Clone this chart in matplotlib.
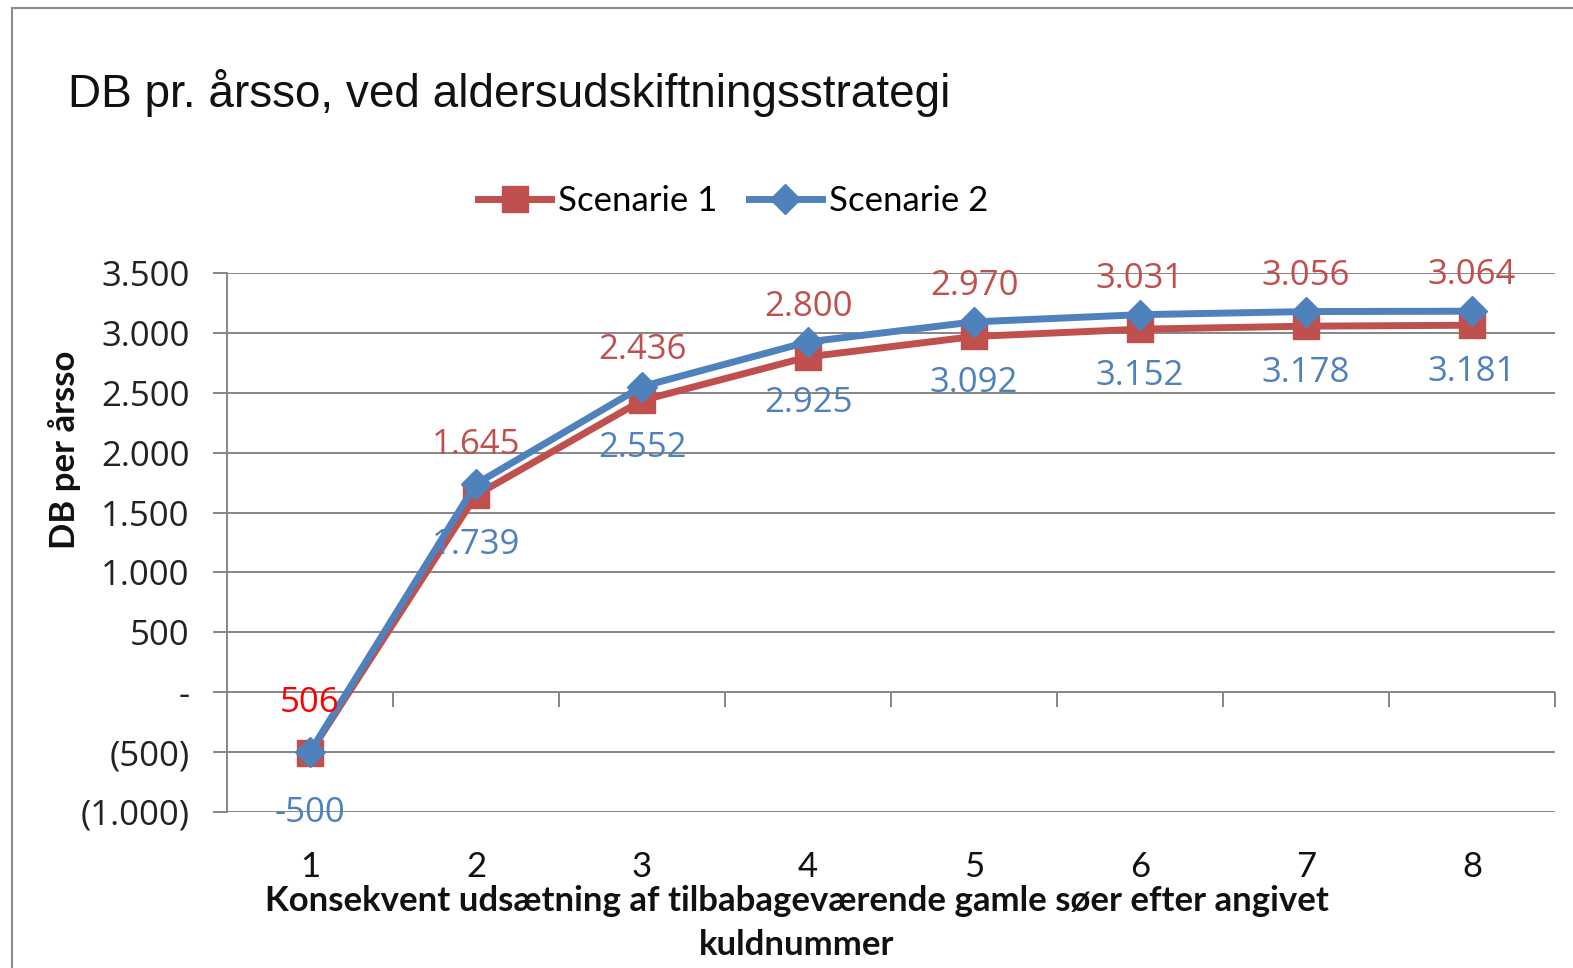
import matplotlib
matplotlib.use("Agg")
import matplotlib.pyplot as plt
from matplotlib.patches import Rectangle
from matplotlib.lines import Line2D

# ---- data ----
categories = [1, 2, 3, 4, 5, 6, 7, 8]
scenarie1 = [-506, 1645, 2436, 2800, 2970, 3031, 3056, 3064]
scenarie2 = [-500, 1739, 2552, 2925, 3092, 3152, 3178, 3181]
series_names = ["Scenarie 1", "Scenarie 2"]
y_ticks = [-1000, -500, 0, 500, 1000, 1500, 2000, 2500, 3000, 3500]
title = "DB pr. årsso, ved aldersudskiftningsstrategi"
y_label = "DB per årsso"
x_label = "Konsekvent udsætning af tilbabageværende gamle søer efter angivet\nkuldnummer"

RED = "#C0504D"
BLUE = "#4F81BD"
GRID = "#868686"


def dk(v):
    return f"{abs(v):,}".replace(",", ".")


def tick_fmt(v):
    if v == 0:
        return "-"
    if v < 0:
        return "(" + dk(v) + ")"
    return dk(v)


W, H = 1573, 968
fig = plt.figure(figsize=(W / 100, H / 100), dpi=100)
fig.patch.set_facecolor("white")

ax = fig.add_axes([227 / W, 1 - 812 / H, (1555 - 227) / W, (812 - 273) / H])
ax.set_xlim(0.5, 8.5)
ax.set_ylim(-1000, 3500)

# grid
ax.set_yticks(y_ticks)
ax.set_yticklabels([tick_fmt(v) for v in y_ticks], fontfamily="Open Sans",
                   fontsize=25, color="#222222")
ax.yaxis.grid(True, color=GRID, lw=1.4, zorder=0)
ax.tick_params(axis="y", direction="out", length=10, width=1.4, color=GRID, pad=17)
for s in ["top", "right", "bottom"]:
    ax.spines[s].set_visible(False)
ax.spines["left"].set_color(GRID)
ax.spines["left"].set_linewidth(1.4)

ax.set_xticks(categories)
ax.set_xticklabels([str(c) for c in categories], fontfamily="Lato", fontsize=25,
                   color="#111111")
ax.tick_params(axis="x", length=0, pad=28)

# category boundary ticks on zero line
sec = ax.secondary_xaxis(1000 / 4500)
sec.set_xticks([c + 0.5 for c in categories])
sec.set_xticklabels([])
sec.tick_params(direction="out", length=11, width=1.4, color=GRID)
sec.spines["bottom"].set_visible(False)
sec.spines["top"].set_visible(False)

# lines
ax.plot(categories, scenarie1, color=RED, lw=5, marker="s", ms=19,
        mfc=RED, mec=RED, zorder=3, label=series_names[0])
ax.plot(categories, scenarie2, color=BLUE, lw=5, marker="D", ms=15,
        mfc=BLUE, mec=BLUE, zorder=4, label=series_names[1])

# data labels
for x, v in zip(categories, scenarie1):
    col = "#FF0000" if v < 0 else RED
    ax.annotate(dk(v), (x, v), xytext=(0, 36), textcoords="offset points",
                ha="center", va="center", fontfamily="Open Sans", fontsize=25,
                color=col, zorder=6)
for x, v in zip(categories, scenarie2):
    txt = ("-" if v < 0 else "") + dk(v)
    ax.annotate(txt, (x, v), xytext=(0, -44), textcoords="offset points",
                ha="center", va="center", fontfamily="Open Sans", fontsize=25,
                color=BLUE, zorder=6)

# titles / labels
fig.text(68 / W, 1 - 93 / H, title, fontfamily="Liberation Sans", fontsize=33,
         ha="left", va="center", color="#111111")
fig.text(65 / W, 1 - 450 / H, y_label, fontfamily="Lato", fontweight="bold",
         fontsize=25, rotation=90, ha="center", va="center", color="#111111")
fig.text(797 / W, 1 - 923 / H, x_label, fontfamily="Lato", fontweight="bold",
         fontsize=25, ha="center", va="center", multialignment="center",
         linespacing=1.45, color="#111111")

# legend
handles = [Line2D([], [], color=RED, lw=5, marker="s", ms=19),
           Line2D([], [], color=BLUE, lw=5, marker="D", ms=15)]
fig.legend(handles, series_names, loc="center", bbox_to_anchor=(733 / W, 1 - 201 / H),
           ncol=2, frameon=False, handlelength=2.1, handletextpad=0.2,
           columnspacing=0.9, prop={"family": "Lato", "size": 25})

# outer chart border
fig.patches.append(Rectangle((12 / W, -0.05), 1.2, (968 - 8) / H + 0.05,
                             transform=fig.transFigure, fill=False,
                             edgecolor="#8C8C8C", lw=1.5, clip_on=False))

fig.savefig("out.png", dpi=100)
